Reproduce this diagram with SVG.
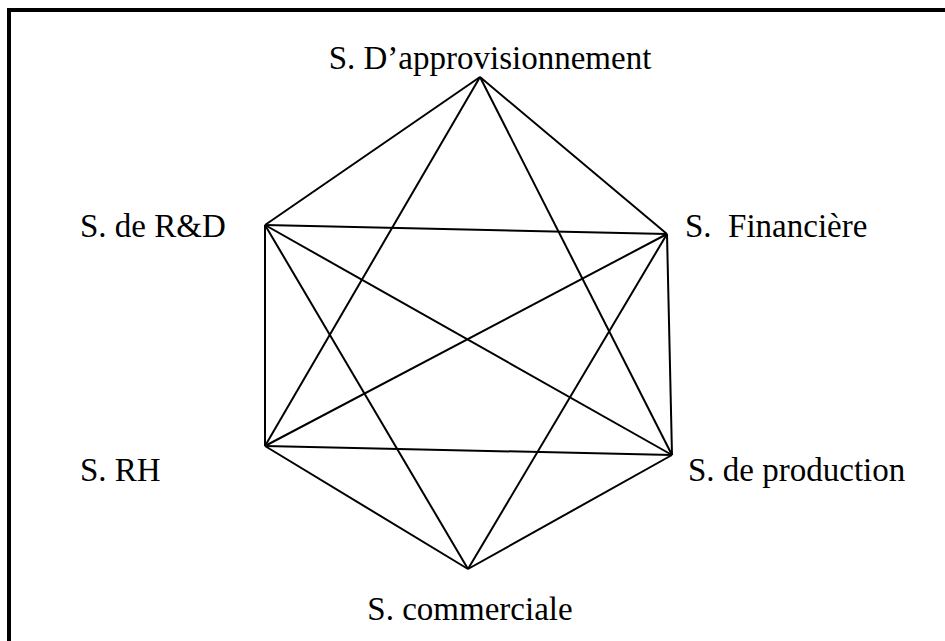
<svg xmlns="http://www.w3.org/2000/svg" width="945" height="641" viewBox="0 0 945 641">
<style>
.lbl{font-family:"Liberation Serif","Times New Roman",serif;font-size:33px;fill:#000}
.e{stroke:#000;stroke-width:2;fill:none}
</style>
<rect width="945" height="641" fill="#fff"/>
<rect x="9" y="10" width="1000" height="1000" fill="none" stroke="#000" stroke-width="4"/>
<g id="connectors" class="e">
<line x1="480" y1="77" x2="265" y2="225"/>
<line x1="480" y1="77" x2="667" y2="234"/>
<line x1="480" y1="77" x2="265" y2="446"/>
<line x1="480" y1="77" x2="672" y2="455"/>
<line x1="265" y1="225" x2="667" y2="234"/>
<line x1="265" y1="225" x2="265" y2="446"/>
<line x1="265" y1="225" x2="672" y2="455"/>
<line x1="265" y1="225" x2="468" y2="569"/>
<line x1="667" y1="234" x2="672" y2="455"/>
<line x1="667" y1="234" x2="265" y2="446"/>
<line x1="667" y1="234" x2="468" y2="569"/>
<line x1="265" y1="446" x2="672" y2="455"/>
<line x1="265" y1="446" x2="468" y2="569"/>
<line x1="672" y1="455" x2="468" y2="569"/>
</g>
<g id="n-appro"><text class="lbl" x="490" y="69" text-anchor="middle">S. D’approvisionnement</text></g>
<g id="n-rd"><text class="lbl" x="80" y="237">S. de R&amp;D</text></g>
<g id="n-fin"><text class="lbl" x="685" y="237" xml:space="preserve">S.  Financière</text></g>
<g id="n-rh"><text class="lbl" x="80" y="481">S. RH</text></g>
<g id="n-prod"><text class="lbl" x="688" y="481">S. de production</text></g>
<g id="n-comm"><text class="lbl" x="470" y="620" text-anchor="middle">S. commerciale</text></g>
</svg>
